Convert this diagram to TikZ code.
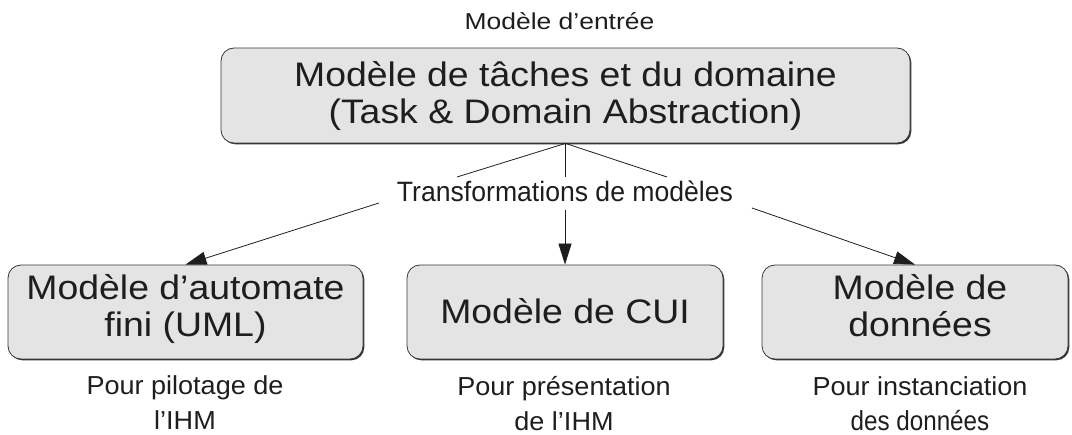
\documentclass[tikz,border=0pt]{standalone}
\usepackage{fontspec}
\setmainfont{Liberation Sans}
\newfontfamily\fntBox[FakeStretch=1.1]{Liberation Sans}
\newfontfamily\fntTop[FakeStretch=1.15]{Liberation Sans}
\newfontfamily\fntTr[FakeStretch=0.95]{Liberation Sans}
\newfontfamily\fntLab[FakeStretch=1.04]{Liberation Sans}
\newfontfamily\fntNarrow[FakeStretch=0.88]{Liberation Sans}
\usetikzlibrary{arrows.meta,shadows}
\definecolor{boxfill}{HTML}{E4E4E4}
\definecolor{ink}{HTML}{1E1E1E}
\definecolor{edge}{HTML}{3A3A3A}
\begin{document}
\begin{tikzpicture}[x=1bp,y=-1bp,
  model/.style={draw=edge, line width=0.8bp, fill=boxfill, rounded corners=13bp,
    drop shadow={shadow xshift=1.3bp, shadow yshift=-1.3bp, fill=black!80, opacity=1},
    text=ink, font=\fntBox\fontsize{34bp}{37bp}\selectfont, inner sep=0pt,
    minimum height=94bp},
  twoline/.style={text height=0bp, text depth=24bp},
  oneline/.style={text height=24bp, text depth=0bp},
  lab/.style={text=ink, font=\fntLab\fontsize{26bp}{34bp}\selectfont, inner sep=0pt, anchor=base},
  conn/.style={draw=ink, line width=0.8bp},
  arr/.style={conn, -{Triangle[length=21bp,width=13bp]}}
]
\useasboundingbox (0,0) rectangle (1072,435);

% input label
\node[text=ink, font=\fntTop\fontsize{23bp}{27bp}\selectfont, inner sep=0pt, anchor=base]
  (entree) at (559.5,30) {Modèle d’entrée};

% top box
\node[model, minimum width=689bp, minimum height=95bp, text height=0bp, text depth=17bp]
  (top) at (565.5,95.5)
  {\begin{tabular}[t]{@{}c@{}}Modèle de tâches et du domaine\\(Task \& Domain Abstraction)\end{tabular}};

% transformation label
\node[text=ink, font=\fntTr\fontsize{28bp}{32bp}\selectfont, inner sep=0pt, anchor=base]
  (trf) at (565,202) {Transformations de modèles};

% bottom boxes
\node[model, twoline, minimum width=355bp] (lb) at (185.5,312)
  {\begin{tabular}[t]{@{}c@{}}Modèle d’automate\\fini (UML)\end{tabular}};
\node[model, oneline, minimum width=316bp] (mb) at (565,312)
  {\begin{tabular}[t]{@{}c@{}}Modèle de CUI\end{tabular}};
\node[model, twoline, minimum width=306bp] (rb) at (915,312)
  {\begin{tabular}[t]{@{\hspace{10bp}}c@{}}Modèle de\\données\end{tabular}};

% labels under boxes
\node[lab] (l1) at (185,395)
  {\begin{tabular}[t]{@{}c@{}}Pour pilotage de\\l’IHM\end{tabular}};
\node[lab] (l2) at (564,396)
  {\begin{tabular}[t]{@{}c@{}}Pour présentation\\de l’IHM\end{tabular}};
\node[lab] (l3) at (920,396)
  {\begin{tabular}[t]{@{}c@{}}Pour instanciation\\{\fntNarrow\fontsize{27.5bp}{34bp}\selectfont des données}\end{tabular}};

% connectors
\coordinate (tl) at (457,177);
\coordinate (tm) at (565.5,177);
\coordinate (tr) at (667,177);
\draw[conn] (top.south) -- (tl);
\draw[conn] (top.south) -- (tm);
\draw[conn] (top.south) -- (tr);

\coordinate (al) at (379,203);
\coordinate (am) at (565,210);
\coordinate (ar) at (752,208);
\draw[arr] (al) -- (lb.north);
\draw[arr] (am) -- (mb.north);
\draw[arr] (ar) -- (rb.north);
\end{tikzpicture}
\end{document}
